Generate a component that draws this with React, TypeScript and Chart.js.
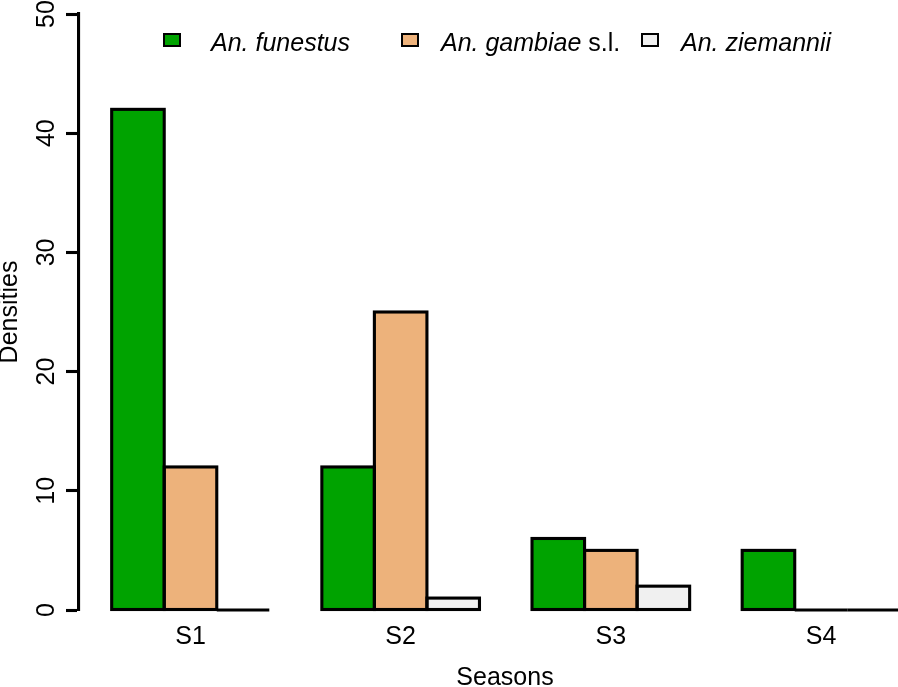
import React, { useEffect, useRef } from "react";
import { Chart, registerables } from "chart.js";

Chart.register(...registerables);

const seasons = ["S1", "S2", "S3", "S4"];
const seasonPositions = [1, 2, 3, 4];
const funestus = [42, 12, 6, 5];
const gambiae = [12, 25, 5, 0];
const ziemannii = [0, 1, 2, 0];
const yTicks = [0, 10, 20, 30, 40, 50];

const seriesNames = ["An. funestus", "An. gambiae s.l.", "An. ziemannii"];
const seriesColors = ["#00A300", "#EDB27B", "#F0F0F0"];
const seriesValues = [funestus, gambiae, ziemannii];

const xTitle = "Seasons";
const yTitle = "Densities";

const FONT = "'Liberation Sans', Arial, Helvetica, sans-serif";
const LW = 3.1;

const outlinePlugin = {
  id: "rOutline",
  afterDatasetsDraw(chart: any) {
    const ctx = chart.ctx;
    ctx.save();
    ctx.lineWidth = LW;
    ctx.strokeStyle = "#000";
    ctx.lineJoin = "miter";
    chart.data.datasets.forEach((_d: any, i: number) => {
      const meta = chart.getDatasetMeta(i);
      meta.data.forEach((el: any) => {
        const { x, y, base, width } = el.getProps(["x", "y", "base", "width"], true);
        const top = Math.min(y, base);
        const h = Math.abs(base - y);
        ctx.beginPath();
        if (h < 0.5) {
          ctx.moveTo(x - width / 2, base);
          ctx.lineTo(x + width / 2, base);
          ctx.stroke();
        } else {
          ctx.strokeRect(x - width / 2, top, width, h);
        }
      });
    });
    ctx.restore();
  },
};

export default function App() {
  const ref = useRef<HTMLCanvasElement | null>(null);

  useEffect(() => {
    document.body.style.margin = "0";
    if (!ref.current) return;
    const chart = new Chart(ref.current, {
      type: "bar",
      data: {
        datasets: seriesNames.map((name, i) => ({
          label: name,
          data: seriesValues[i].map((v, j) => ({ x: seasonPositions[j], y: v })),
          backgroundColor: seriesColors[i],
          borderWidth: 0,
          categoryPercentage: 0.75,
          barPercentage: 1,
        })),
      },
      options: {
        animation: false,
        responsive: false,
        devicePixelRatio: 1,
        layout: { padding: { top: 14, left: 0, right: 0, bottom: 0 } },
        plugins: {
          legend: { display: false },
          tooltip: { enabled: false },
        },
        scales: {
          x: {
            type: "linear",
            min: 0.4695,
            max: 4.3664,
            offset: false,
            grid: { display: false },
            border: { display: false },
            afterBuildTicks: (axis: any) => {
              axis.ticks = seasonPositions.map((v) => ({ value: v }));
            },
            afterFit: (scale: any) => {
              scale.height = 77;
              scale.paddingLeft = 0;
              scale.paddingRight = 0;
            },
            ticks: {
              autoSkip: false,
              maxRotation: 0,
              minRotation: 0,
              padding: 4.5,
              color: "#000",
              font: { family: FONT, size: 25 },
              callback: (v: any) => {
                const idx = seasonPositions.indexOf(Number(v));
                return idx >= 0 ? seasons[idx] : "";
              },
            },
            title: { display: false },
          },
          y: {
            type: "linear",
            min: 0,
            max: 50,
            afterBuildTicks: (axis: any) => {
              axis.ticks = yTicks.map((v) => ({ value: v }));
            },
            afterFit: (scale: any) => {
              scale.width = 79;
              scale.paddingTop = 0;
              scale.paddingBottom = 0;
            },
            grid: {
              display: true,
              drawOnChartArea: false,
              drawTicks: true,
              tickLength: 13,
              tickColor: "#000",
              tickWidth: LW,
            },
            border: { display: true, color: "#000", width: LW },
            ticks: {
              minRotation: 90,
              maxRotation: 90,
              crossAlign: "center",
              padding: 5,
              color: "#000",
              font: { family: FONT, size: 25 },
            },
            title: {
              display: true,
              text: yTitle,
              color: "#000",
              padding: 0,
              font: { family: FONT, size: 25, lineHeight: "19.4px" },
            },
          },
        },
      } as any,
      plugins: [outlinePlugin],
    });
    return () => chart.destroy();
  }, []);

  const legendBoxLeft = [163, 401, 641];
  const legendTextLeft = [211, 441, 681];

  return (
    <div style={{ position: "relative", width: 898, height: 687, overflow: "hidden", background: "#fff" }}>
      <canvas ref={ref} width={898} height={687} style={{ display: "block", width: 898, height: 687 }} />
      {seriesNames.map((name, i) => (
        <React.Fragment key={name}>
          <div
            style={{
              position: "absolute",
              left: legendBoxLeft[i],
              top: 33,
              width: 18,
              height: 13.5,
              boxSizing: "border-box",
              border: "2.7px solid #000",
              background: seriesColors[i],
            }}
          />
          <div
            style={{
              position: "absolute",
              left: legendTextLeft[i],
              top: 30.3,
              fontFamily: FONT,
              fontSize: 25,
              lineHeight: "25px",
              whiteSpace: "nowrap",
              color: "#000",
            }}
          >
            {name.endsWith(" s.l.") ? (
              <>
                <i>{name.slice(0, -5)}</i> s.l.
              </>
            ) : (
              <i>{name}</i>
            )}
          </div>
        </React.Fragment>
      ))}
      <div
        style={{
          position: "absolute",
          left: 505,
          top: 663.8,
          transform: "translateX(-50%)",
          fontFamily: FONT,
          fontSize: 25,
          lineHeight: "25px",
          whiteSpace: "nowrap",
          color: "#000",
        }}
      >
        {xTitle}
      </div>
    </div>
  );
}
